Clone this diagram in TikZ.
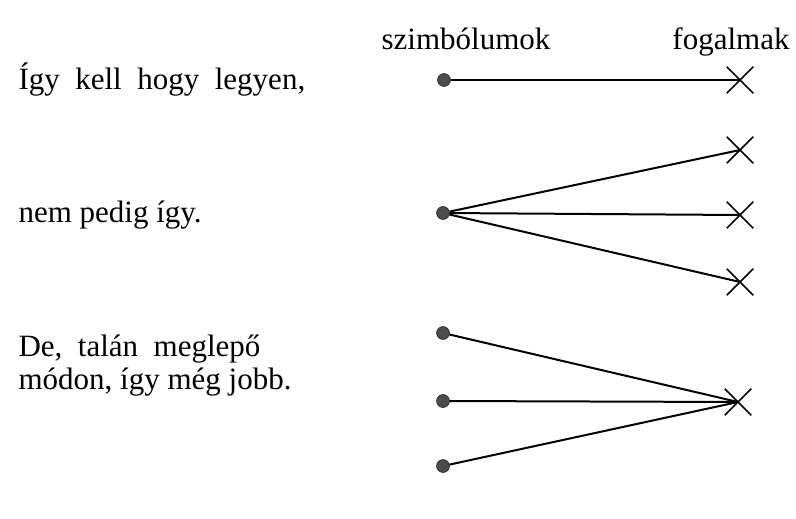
\documentclass[tikz,border=0pt]{standalone}
\usepackage{fontspec}
\setmainfont{Liberation Serif}
\usepackage{tikz}
\usetikzlibrary{shapes.misc, positioning}
\tikzset{
  symdot/.style={
    circle, draw=black, fill=black!70, minimum size=13pt, inner sep=0pt
  },
  conceptx/.style={
    cross out, draw, line width=1.5pt, minimum size=25pt, inner sep=0pt
  },
  linkline/.style={
    line width=2pt
  },
  rowtext/.style={
    anchor=base west, align=left, font=\fontsize{31}{33}\selectfont
  },
  headtext/.style={
    anchor=base, font=\fontsize{31}{33}\selectfont
  },
}

\begin{document}
\begin{tikzpicture}[x=1pt, y=-1pt]
  \useasboundingbox (0,0) rectangle (796,519);
  % Headers
  \node[headtext] (symhead) at (466,50) {szimbólumok};
  \node[headtext] (conhead) at (731,50) {fogalmak};
  % Row one
  \node[rowtext] (txtone) at (15,90) {Így \ kell \ hogy \ legyen,};
  \node[symdot] (s1) at (444,80) {};
  \node[conceptx] (c1) at (740,80) {};
  \draw[linkline] (s1) -- (c1.center);
  % Row two
  \node[rowtext] (txttwo) at (15,222) {nem pedig így.};
  \node[symdot] (s2) at (443,213) {};
  \node[conceptx] (c2) at (740,150) {};
  \node[conceptx] (c3) at (740,215) {};
  \node[conceptx] (c4) at (740,282) {};
  \draw[linkline] (s2) -- (c2.center);
  \draw[linkline] (s2) -- (c3.center);
  \draw[linkline] (s2) -- (c4.center);
  % Row three
  \node[rowtext] (txtthree) at (15,389) {De, \ talán \ meglepő\\módon, így még jobb.};
  \node[symdot] (s3) at (443,333) {};
  \node[symdot] (s4) at (443,401) {};
  \node[symdot] (s5) at (443,466) {};
  \node[conceptx] (c5) at (738,402) {};
  \draw[linkline] (s3) -- (c5.center);
  \draw[linkline] (s4) -- (c5.center);
  \draw[linkline] (s5) -- (c5.center);
\end{tikzpicture}
\end{document}
